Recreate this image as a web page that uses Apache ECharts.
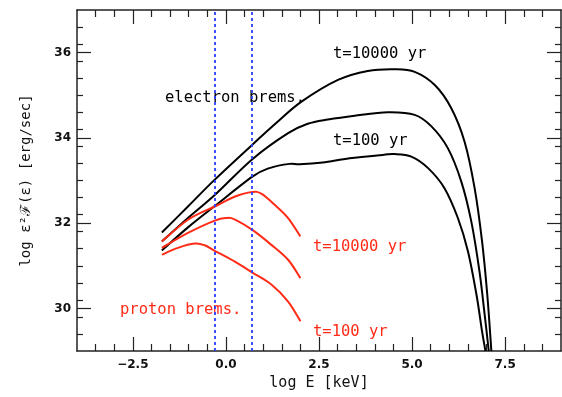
<!DOCTYPE html>
<html>
<head>
<meta charset="utf-8">
<script src="https://cdn.jsdelivr.net/npm/echarts@6/dist/echarts.min.js"></script>
<style>html,body{margin:0;padding:0;background:#fff}#c{width:562px;height:397px}</style>
</head>
<body>
<div id="c"></div>
<script>
// ---- axis ticks ----
const xMajorTicks = [-2.5, 0, 2.5, 5, 7.5];
const yMajorTicks = [30, 32, 34, 36];
const xMinorStep = 0.5;
const yMinorStep = 0.4;

// ---- electron bremsstrahlung (black) ----
const eTopE = [-1.72, -1.02, -0.30, 0.71, 1.38, 2.03, 3.01, 3.81, 4.53, 5.07, 5.61, 6.05, 6.41, 6.68, 6.88, 7.02, 7.13];
const eTopL = [31.78, 32.39, 33.02, 33.84, 34.37, 34.85, 35.36, 35.57, 35.61, 35.55, 35.24, 34.70, 33.91, 32.82, 31.57, 30.32, 29.0];
const eMidE = [-1.72, -1.02, -0.30, 0.71, 1.67, 2.20, 2.74, 3.46, 4.35, 5.07, 5.52, 5.96, 6.32, 6.59, 6.81, 6.95, 7.06];
const eMidL = [31.57, 32.12, 32.66, 33.50, 34.11, 34.33, 34.43, 34.52, 34.60, 34.54, 34.27, 33.76, 32.98, 32.04, 30.87, 29.85, 29.0];
const eLowE = [-1.72, -1.02, -0.30, 0.71, 1.17, 1.71, 1.98, 2.60, 3.32, 4.21, 4.53, 4.98, 5.43, 5.87, 6.23, 6.50, 6.73, 6.88, 6.97];
const eLowL = [31.36, 31.90, 32.40, 33.09, 33.29, 33.39, 33.38, 33.42, 33.52, 33.60, 33.62, 33.56, 33.29, 32.82, 32.12, 31.34, 30.32, 29.46, 29.0];

// ---- proton bremsstrahlung (red) ----
const pTopE = [-1.72, -1.02, -0.30, 0.23, 0.71, 0.95, 1.31, 1.67, 2.00];
const pTopL = [31.57, 32.08, 32.39, 32.62, 32.73, 32.69, 32.43, 32.12, 31.69];
const pMidE = [-1.72, -1.02, -0.30, 0.01, 0.23, 0.71, 1.22, 1.67, 2.00];
const pMidL = [31.42, 31.77, 32.06, 32.12, 32.09, 31.84, 31.49, 31.14, 30.71];
const pLowE = [-1.72, -1.29, -0.84, -0.57, -0.30, 0.23, 0.71, 1.22, 1.67, 2.00];
const pLowL = [31.26, 31.42, 31.52, 31.48, 31.35, 31.10, 30.84, 30.56, 30.16, 29.70];

// ---- energy band markers (blue dotted) ----
const bandEdges = [-0.3, 0.7];

const X_MIN = -4, X_MAX = 9, Y_MIN = 29, Y_MAX = 37;

function minorList(min, max, step, majors) {
  const out = [];
  const n = Math.round((max - min) / step);
  for (let i = 1; i < n; i++) {
    const v = +(min + i * step).toFixed(4);
    if (!majors.some(m => Math.abs(m - v) < 1e-6)) out.push(v);
  }
  return out;
}
const xMinor = minorList(X_MIN, X_MAX, xMinorStep, xMajorTicks);
const yMinor = minorList(Y_MIN, Y_MAX, yMinorStep, yMajorTicks);

const pair = (xs, ys) => xs.map((x, i) => [x, ys[i]]);
const AX = '#222';
const RED = '#ff2b17';
const BLUE = '#2b3dff';
const tickFont = {fontFamily: 'DejaVu Sans', fontWeight: 'bold', fontSize: 12, color: '#111'};
const annFont = '15.5px "DejaVu Sans Mono"';

function xAx(pos, ticks, len, showLine, label, name) {
  return {
    type: 'value', min: X_MIN, max: X_MAX, position: pos, gridIndex: 0,
    axisLine: {show: showLine, onZero: false, lineStyle: {color: AX, width: 1.5}},
    axisTick: {show: true, inside: true, length: len, customValues: ticks, lineStyle: {color: AX, width: 1.2}},
    axisLabel: label ? Object.assign({show: true, customValues: ticks, margin: 8,
      formatter: v => (v < 0 ? '\u2212' : '') + Math.abs(v).toFixed(1)}, tickFont) : {show: false},
    splitLine: {show: false},
    name: name || '', nameLocation: 'middle', nameGap: 24,
    nameTextStyle: {fontFamily: 'DejaVu Sans Mono', fontSize: 15, color: '#111'}
  };
}
function yAx(pos, ticks, len, showLine, label, name) {
  return {
    type: 'value', min: Y_MIN, max: Y_MAX, position: pos, gridIndex: 0,
    axisLine: {show: showLine, onZero: false, lineStyle: {color: AX, width: 1.5}},
    axisTick: {show: true, inside: true, length: len, customValues: ticks, lineStyle: {color: AX, width: 1.2}},
    axisLabel: label ? Object.assign({show: true, customValues: ticks, margin: 6,
      formatter: v => String(v)}, tickFont) : {show: false},
    splitLine: {show: false},
    name: name || '', nameLocation: 'middle', nameGap: 44, nameRotate: 90,
    nameTextStyle: {fontFamily: 'DejaVu Sans Mono', fontSize: 14, color: '#111'}
  };
}

// Smooth curve through the data points (Catmull-Rom), positioned with the axes' scales.
function curveSeries(xs, ys, color, extra) {
  const data = pair(xs, ys);
  return Object.assign({
    type: 'custom', coordinateSystem: 'cartesian2d', xAxisIndex: 0, yAxisIndex: 0,
    data, silent: true, animation: false,
    encode: {x: 0, y: 1},
    renderItem: function (params, api) {
      if (params.dataIndex !== 0) return null;
      const p = data.map(d => api.coord(d));
      const n = p.length;
      let d = 'M' + p[0][0] + ' ' + p[0][1];
      for (let i = 0; i < n - 1; i++) {
        const p0 = p[Math.max(i - 1, 0)], p1 = p[i], p2 = p[i + 1], p3 = p[Math.min(i + 2, n - 1)];
        const c1x = p1[0] + (p2[0] - p0[0]) / 6, c1y = p1[1] + (p2[1] - p0[1]) / 6;
        const c2x = p2[0] - (p3[0] - p1[0]) / 6, c2y = p2[1] - (p3[1] - p1[1]) / 6;
        d += ' C' + c1x + ' ' + c1y + ' ' + c2x + ' ' + c2y + ' ' + p2[0] + ' ' + p2[1];
      }
      return {
        type: 'path', shape: {pathData: d},
        style: {fill: null, stroke: color, lineWidth: 2, lineJoin: 'round', lineCap: 'butt'}
      };
    }
  }, extra || {});
}

const chart = echarts.init(document.getElementById('c'), null, {renderer: 'canvas'});
chart.setOption({
  animation: false,
  backgroundColor: '#fff',
  grid: {left: 77, top: 10, width: 484, height: 341},
  xAxis: [
    xAx('bottom', xMajorTicks, 14, true, true, 'log E [keV]'),
    xAx('bottom', xMinor, 7, false, false),
    xAx('top', xMajorTicks, 14, true, false),
    xAx('top', xMinor, 7, false, false)
  ],
  yAxis: [
    yAx('left', yMajorTicks, 14, true, true, 'log \u03b5\u00b2\u2131(\u03b5) [erg/sec]'),
    yAx('left', yMinor, 6, false, false),
    yAx('right', yMajorTicks, 14, true, false),
    yAx('right', yMinor, 6, false, false)
  ],
  series: [
    curveSeries(eTopE, eTopL, '#000', {
      markLine: {
        silent: true, symbol: 'none', label: {show: false}, animation: false,
        lineStyle: {color: BLUE, width: 1.8, type: [3, 3]},
        data: bandEdges.map(v => ({xAxis: v}))
      }
    }),
    curveSeries(eMidE, eMidL, '#000'),
    curveSeries(eLowE, eLowL, '#000'),
    curveSeries(pTopE, pTopL, RED),
    curveSeries(pMidE, pMidL, RED),
    curveSeries(pLowE, pLowL, RED)
  ],
  graphic: [
    {type: 'text', x: 333, y: 54, style: {text: 't=10000 yr', fill: '#000', font: annFont, verticalAlign: 'middle'}},
    {type: 'text', x: 165, y: 98, style: {text: 'electron brems.', fill: '#000', font: annFont, verticalAlign: 'middle'}},
    {type: 'text', x: 333, y: 141, style: {text: 't=100 yr', fill: '#000', font: annFont, verticalAlign: 'middle'}},
    {type: 'text', x: 313, y: 247, style: {text: 't=10000 yr', fill: RED, font: annFont, verticalAlign: 'middle'}},
    {type: 'text', x: 120, y: 310, style: {text: 'proton brems.', fill: RED, font: annFont, verticalAlign: 'middle'}},
    {type: 'text', x: 313, y: 332, style: {text: 't=100 yr', fill: RED, font: annFont, verticalAlign: 'middle'}}
  ]
});
</script>
</body>
</html>
